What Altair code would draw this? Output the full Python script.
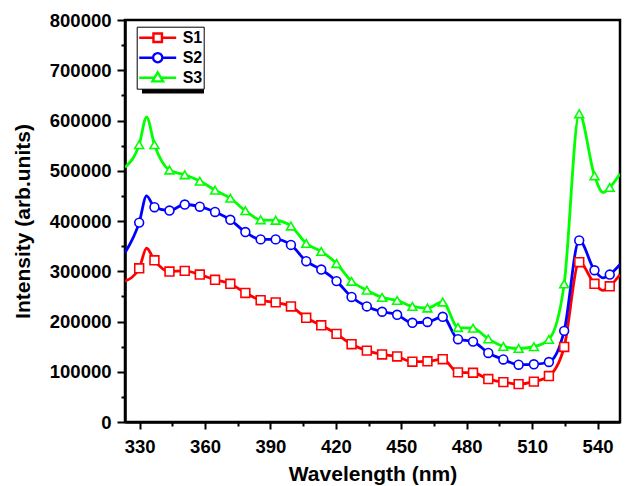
import altair as alt
import pandas as pd

# Emission spectra of three samples (S1-S3)
wavelength = [323.3, 329.8, 333.2, 336.8, 343.7, 350.7, 357.6, 364.6, 371.6, 378.5,
              385.5, 392.4, 399.4, 406.4, 413.3, 420.3, 427.2, 434.2, 441.2, 448.1,
              455.1, 462.0, 469.0, 476.0, 482.9, 489.9, 496.8, 503.8, 510.8, 517.7,
              524.7, 531.6, 538.6, 542.5, 545.6, 550.3]
# symbols are drawn only at the sampled points flagged here
has_marker = [False, True, False] + [True] * 30 + [False, True, False]

s1 = [280000, 305800, 345800,
      321800, 299400, 300800, 293400, 283000, 275000, 256800, 242400, 238000, 230000,
      207400, 192400, 175400, 154800, 142000, 134400, 130400, 120000, 120800, 125000,
      98800, 98000, 85400, 79400, 75400, 80400, 91400, 149400, 318000, 275000,
      262000, 270000, 293400]
s2 = [336800, 396800, 450000,
      427400, 420800, 432800, 428400, 418000, 402400, 378000, 363400, 363400, 352400,
      320000, 303400, 280400, 248800, 230000, 219400, 213400, 197400, 199000, 209400,
      164800, 160000, 137400, 124400, 114000, 114800, 119400, 181400, 361400, 302000,
      286800, 293400, 313400]
s3 = [506800, 552000, 606800,
      552000, 501400, 492000, 479400, 461400, 445400, 420400, 402400, 401400, 390000,
      355400, 339400, 315400, 280000, 262400, 248000, 242000, 230000, 226800, 238800,
      188000, 186800, 165400, 150400, 146400, 150000, 164400, 274800, 613400, 490000,
      456800, 466800, 494000]

samples = ["S1", "S2", "S3"]
colors = ["#ff0000", "#0000ff", "#00ff00"]
shapes = ["square", "circle", "triangle-up"]

x_major_ticks = [330, 360, 390, 420, 450, 480, 510, 540]
x_minor_ticks = [345, 375, 405, 435, 465, 495, 525]
y_major_ticks = [0, 100000, 200000, 300000, 400000, 500000, 600000, 700000, 800000]
y_minor_ticks = [50000, 150000, 250000, 350000, 450000, 550000, 650000, 750000]

rows = []
for name, vals in zip(samples, [s1, s2, s3]):
    for w, v, m in zip(wavelength, vals, has_marker):
        rows.append({"wavelength": w, "intensity": v, "sample": name, "marker": m})
df = pd.DataFrame(rows)

FONT = "Liberation Sans"

x_scale = alt.Scale(domain=[323.3, 550.3], nice=False, zero=False)
y_scale = alt.Scale(domain=[0, 800000], nice=False)
color_scale = alt.Scale(domain=samples, range=colors)

x_major = alt.Axis(orient="bottom", values=x_major_ticks, format="d", title="Wavelength (nm)",
                   tickSize=7, labelPadding=8, labelFontSize=18.5, labelFontWeight="bold",
                   labelFont=FONT, labelOverlap=False, labelFlush=False,
                   titleFont=FONT, titleFontSize=21, titleFontWeight="bold", titlePadding=8)
x_minor = alt.Axis(orient="bottom", values=x_minor_ticks, labels=False, domain=False,
                   title=None, tickSize=4)
y_major = alt.Axis(orient="left", values=y_major_ticks, format="d", title="Intensity (arb.units)",
                   tickSize=8, labelPadding=6, labelFontSize=18.5, labelFontWeight="bold",
                   labelFont=FONT, labelOverlap=False, labelFlush=False,
                   titleFont=FONT, titleFontSize=21, titleFontWeight="bold", titlePadding=16)
y_minor = alt.Axis(orient="left", values=y_minor_ticks, labels=False, domain=False,
                   title=None, tickSize=4)

# legend symbols: a line segment with the sample's marker in the middle;
# the zero-length strokes at y=+-1 keep the path square so it scales evenly
# (they fall outside the clipped legend row and are never seen)
extent = "M0,-1L0,-1M0,1L0,1"
sym_paths = {
    "S1": extent + "M-1,0H-0.23M0.23,0H1M-0.23,-0.23H0.23V0.23H-0.23Z",
    "S2": extent + "M-1,0H-0.25M0.25,0H1M-0.25,0A0.25,0.25,0,1,1,0.25,0A0.25,0.25,0,1,1,-0.25,0Z",
    "S3": extent + "M-1,0H-0.17M0.17,0H1M0,-0.29L0.29,0.2L-0.29,0.2Z",
}
shape_expr = ("datum.value === 'S1' ? '{S1}' : datum.value === 'S2' ? '{S2}' : '{S3}'"
              .format(**sym_paths))

legend = alt.Legend(
    title=None, orient="none", legendX=11.7, legendY=6.7, direction="vertical",
    fillColor="white", strokeColor="black", padding=1, clipHeight=20, rowPadding=0,
    symbolType=alt.ExprRef(expr=shape_expr), symbolFillColor="white",
    symbolSize=1369, symbolStrokeWidth=2.4, symbolOpacity=1,
    labelFont=FONT, labelFontSize=16, labelFontWeight="bold", labelColor="black",
    labelOffset=5,
)

base = alt.Chart(df)

# drop shadow behind the legend box
shadow = alt.Chart(alt.Data(values=[{"box": 1}])).mark_rect(color="black").encode(
    x=alt.value(17), x2=alt.value(79), y=alt.value(12), y2=alt.value(73.5)
)

lines = base.mark_line(strokeWidth=2.8, interpolate="monotone", clip=True).encode(
    x=alt.X("wavelength:Q", scale=x_scale, axis=x_minor),
    y=alt.Y("intensity:Q", scale=y_scale, axis=y_minor),
    color=alt.Color("sample:N", scale=color_scale, legend=legend),
)

# hollow markers, one layer per sample with its own symbol shape
marker_layers = []
for i, (name, shp) in enumerate(zip(samples, shapes)):
    axis_x = x_major if i == 0 else None
    axis_y = y_major if i == 0 else None
    marker_layers.append(
        base.transform_filter(f"datum.marker && datum.sample === '{name}'").mark_point(
            shape=shp, filled=False, fill="white", fillOpacity=1, size=78,
            strokeWidth=1.6, opacity=1, clip=True
        ).encode(
            x=alt.X("wavelength:Q", scale=x_scale, axis=axis_x),
            y=alt.Y("intensity:Q", scale=y_scale, axis=axis_y),
            color=alt.Color("sample:N", scale=color_scale, legend=None),
        )
    )

chart = (
    alt.layer(shadow, lines, *marker_layers)
    .resolve_axis(x="independent", y="independent")
    .properties(
        width=495, height=402,
        autosize=alt.AutoSizeParams(type="none"),
        padding={"left": 125, "top": 20, "right": 5, "bottom": 64},
        background="white",
    )
    .configure_view(stroke="black", strokeWidth=2.5)
    .configure_axis(domainColor="black", domainWidth=2.5, tickColor="black", tickWidth=2,
                    labelColor="black", titleColor="black", grid=False)
)

chart.save("out.html", embed_options={"renderer": "svg", "actions": False})
